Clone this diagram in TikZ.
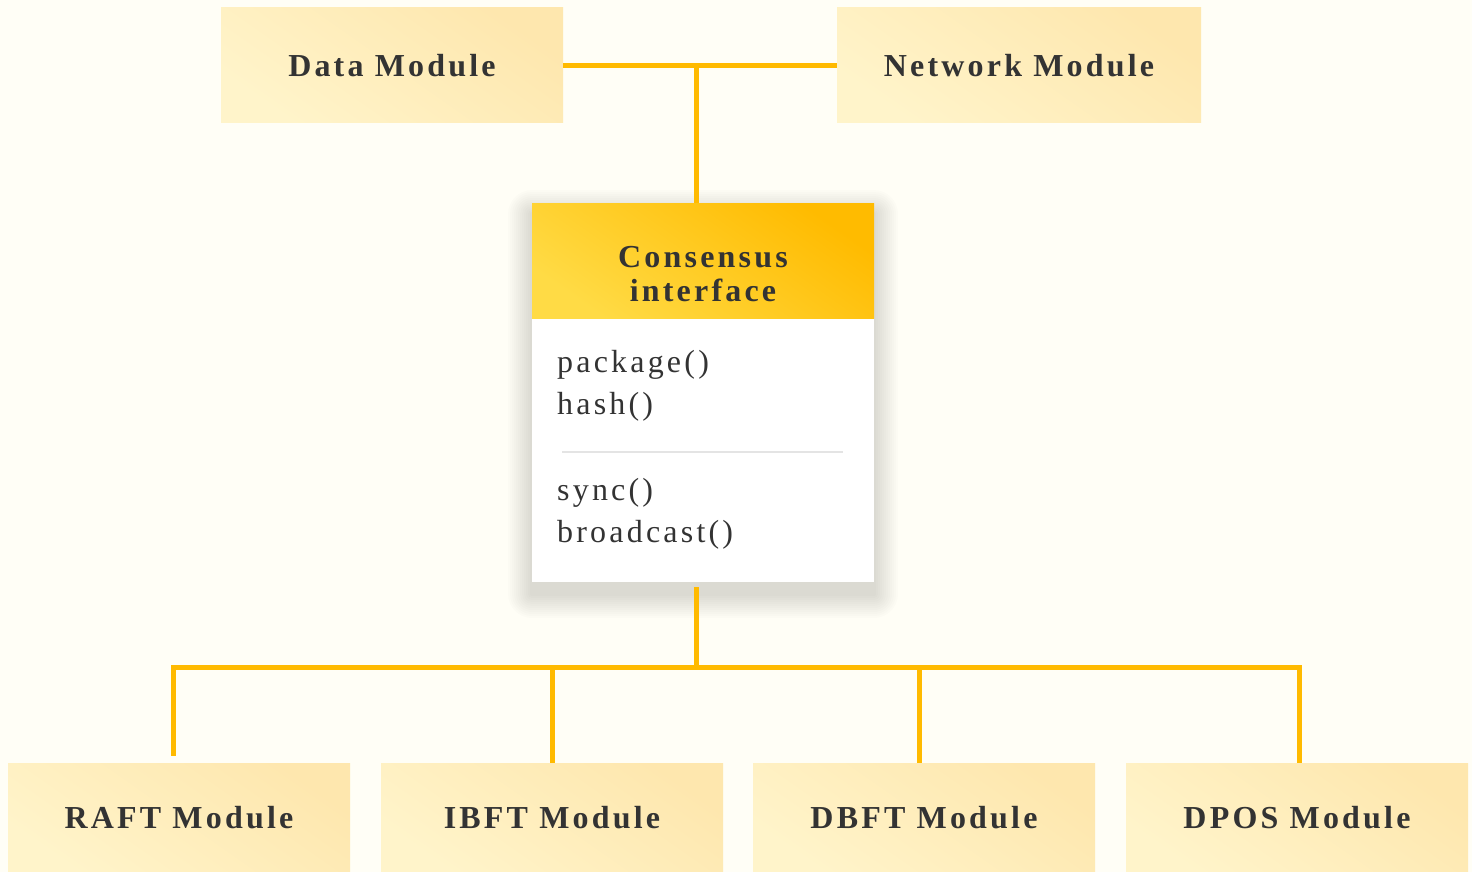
\documentclass[tikz,border=0pt]{standalone}
\usepackage{fontspec}
\setmainfont{Liberation Serif}[LetterSpace=10]

\definecolor{bgcream}{HTML}{FFFEF6}
\definecolor{ink}{HTML}{333333}
\definecolor{wirecol}{HTML}{FFBA00}
\definecolor{modlight}{HTML}{FFF4CA}
\definecolor{moddark}{HTML}{FEE7AE}
\definecolor{headlight}{HTML}{FFDB45}
\definecolor{headdark}{HTML}{FFBB00}
\definecolor{rulegray}{HTML}{E4E4E4}

\begin{document}
\begin{tikzpicture}[x=1pt, y=-1pt,
    module/.style={minimum width=342pt, minimum height=115pt, inner sep=0pt,
        bottom color=modlight, top color=moddark, shading angle=-35,
        text=ink, font=\fontsize{32}{38}\selectfont\bfseries},
    wire/.style={draw=wirecol, line width=5pt},
    method/.style={anchor=base west, inner sep=0pt, text=ink,
        font=\fontsize{32}{42}\selectfont}]
    % background and page size
    \fill[bgcream] (0,0) rectangle (1472,872);
    \useasboundingbox (0,0) rectangle (1472,872);

    % upper modules
    \node[module] (data) at (392,65.5) {Data Module};
    \node[module, minimum width=364pt] (network) at (1019,65.5) {Network Module};

    % soft shadow under the interface box
    \foreach \d in {2,4,...,24}
        \fill[black, fill opacity=0.011, rounded corners=\d pt] (532-\d,214-\d) rectangle (874+\d,594+\d);

    % consensus interface
    \node[anchor=north west, fill=white, minimum width=342pt, minimum height=379pt, inner sep=0pt]
        (iface) at (532,203) {};
    \node[anchor=north west, minimum width=342pt, minimum height=115pt, inner sep=0pt,
        bottom color=headlight, top color=headdark, shading angle=-35]
        (ihead) at (532,203) {};
    \node[align=center, inner sep=0pt, text=ink, font=\fontsize{32}{34}\selectfont\bfseries]
        (ititle) at (703,274) {Consensus\\interface};
    \node[method] (m1) at (557,372) {package()};
    \node[method] (m2) at (557,414) {hash()};
    \coordinate (divl) at (562,452);
    \coordinate (divr) at (843,452);
    \draw[rulegray, line width=2pt] (divl) -- (divr);
    \node[method] (m3) at (557,500) {sync()};
    \node[method] (m4) at (557,542) {broadcast()};

    % lower modules
    \node[module, minimum height=110pt] (raft) at (179,818) {RAFT Module};
    \node[module, minimum height=110pt] (ibft) at (552,818) {IBFT Module};
    \node[module, minimum height=110pt] (dbft) at (924,818) {DBFT Module};
    \node[module, minimum height=110pt] (dpos) at (1297,818) {DPOS Module};

    % connectors
    \coordinate (top) at (696,65);
    \draw[wire] (data.east) -- (network.west);
    \draw[wire] (top) -- (top |- ihead.north);

    \coordinate (bus) at (696,667);
    \coordinate (t1) at (173,667);
    \coordinate (t2) at (552,667);
    \coordinate (t3) at (919,667);
    \coordinate (t4) at (1299,667);
    \draw[wire] ([yshift=-5pt]iface.south -| bus) -- (bus);
    \draw[wire] ([yshift=7pt]t1 |- raft.north) -- (t1) -- (t4) -- (t4 |- dpos.north);
    \draw[wire] (t2) -- (t2 |- ibft.north);
    \draw[wire] (t3) -- (t3 |- dbft.north);
\end{tikzpicture}
\end{document}
